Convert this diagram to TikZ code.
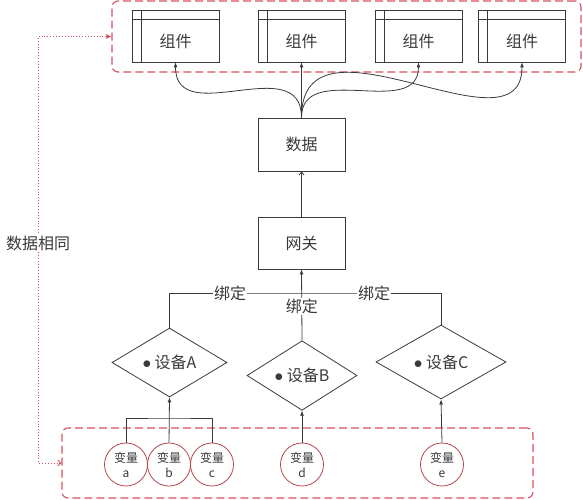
\documentclass[tikz,border=0pt]{standalone}
\usepackage{fontspec}
\setmainfont{Noto Sans CJK SC}
\usetikzlibrary{arrows.meta,shapes.geometric}
\definecolor{redline}{HTML}{D9505C}
\definecolor{varline}{HTML}{B5454B}
\definecolor{ink}{HTML}{3A3A3A}
\def\bigtext{\fontsize{16}{19}\selectfont}
\def\smalltext{\fontsize{12}{15}\selectfont}
\tikzset{
  box/.style={draw=ink, line width=0.8pt, minimum width=87pt, minimum height=52pt, inner sep=0pt, text=ink, font=\bigtext},
  comp/.style={box,
    path picture={
      \draw[ink, line width=0.8pt] ([yshift=-9pt]path picture bounding box.north west) -- ([yshift=-9pt]path picture bounding box.north east);
      \draw[ink, line width=0.8pt] ([xshift=9pt]path picture bounding box.north west) -- ([xshift=9pt]path picture bounding box.south west);}},
  comptext/.style={yshift=-5pt, text=ink, font=\bigtext},
  device/.style={diamond, draw=ink, line width=0.8pt, inner sep=0pt, text=ink, font=\bigtext},
  var/.style={circle, draw=varline, line width=0.8pt, minimum size=43pt, inner sep=0pt, align=center, text=ink, font=\smalltext},
  group/.style={draw=redline, line width=1.1pt, dash pattern=on 8pt off 4pt, rounded corners=6pt},
  tag/.style={fill=white, inner sep=1pt, text=ink, font=\bigtext},
  arr/.style={draw=ink, line width=0.8pt, -{Latex[length=5pt,width=4pt]}},
  arrbarb/.style={draw=ink, line width=0.8pt, -{Straight Barb[length=3pt,width=5pt]}},
  wire/.style={draw=ink, line width=0.8pt},
  same/.style={draw=redline, line width=0.9pt, dotted, {Straight Barb[length=3pt,width=6pt]}-{Latex[length=5pt,width=5pt]}}
}
\begin{document}
\begin{tikzpicture}[x=1pt, y=-1pt]
		%%%%% START %%%%%
		\useasboundingbox (0,0) rectangle (583,500);
		
		% groups
		\node[group, minimum width=469pt, minimum height=71pt] (top) at (346.5,36.5) {};
		\node[group, minimum width=471pt, minimum height=70pt] (bot) at (297.5,463) {};
		
		% components
		\node[comp, label={[comptext]center:组件}] (c1) at (175.5,36) {};
		\node[comp, label={[comptext]center:组件}] (c2) at (301.5,36) {};
		\node[comp, label={[comptext]center:组件}] (c3) at (418.5,36) {};
		\node[comp, label={[comptext]center:组件}] (c4) at (522,36) {};
		
		\node[box, minimum height=53pt] (data) at (301.5,144.5) {数据};
		\node[box] (gw) at (301.5,243) {网关};
		
		% devices
		\node[device, minimum width=115pt, minimum height=69pt] (dA) at (169.5,362.5) {${\bullet}$ 设备A};
		\node[device, minimum width=110pt, minimum height=63pt] (dB) at (302,375.5) {${\bullet}$ 设备B};
		\node[device, minimum width=130pt, minimum height=74pt] (dC) at (441,362) {${\bullet}$ 设备C};
		
		% variables
		\node[var] (va) at (126,464.5) {变量\\a};
		\node[var] (vb) at (169,464.5) {变量\\b};
		\node[var] (vc) at (212,464.5) {变量\\c};
		\node[var] (vd) at (302,464.5) {变量\\d};
		\node[var] (ve) at (442,464.5) {变量\\e};
		
		% data -> components
		\draw[arr] (data.north) .. controls +(0,-68) and +(0,68) .. (c1.south);
		\draw[arr] (data.north) -- (c2.south);
		\draw[arr] (data.north) .. controls +(0,-58) and +(0,58) .. (c3.south);
		\draw[arr] (data.north) .. controls +(0,-118) and +(0,98) .. (c4.south);
		
		\draw[arrbarb] (gw.north) -- (data.south);
		
		% binding
		\coordinate (bind) at (301.5,293);
		\draw[wire] (dA.north) |- (bind) -| (dC.north);
		\node[tag] (bindA) at (230,293) {绑定};
		\node[tag] (bindC) at (374,293) {绑定};
		\draw[arr] (dB.north) -- node[tag, pos=0.48] (bindB) {绑定} (gw.south);
		
		% variables -> devices
		\coordinate (abc) at (169,418);
		\draw[wire] (va.north) |- (abc) -| (vc.north);
		\draw[arr] (vb.north) -- (dA.south);
		\draw[arr] (vd.north) -- (dB.south);
		\draw[arr] (ve.north) -- (dC.south);
		
		% same data
		\coordinate (bend) at (38,463);
		\draw[same] (bot.west) -- (bend) |- (top.west);
		\node[tag] (samelbl) at (38,243) {数据相同};
		
		%%%%% END %%%%%
	\end{tikzpicture}
\end{document}
